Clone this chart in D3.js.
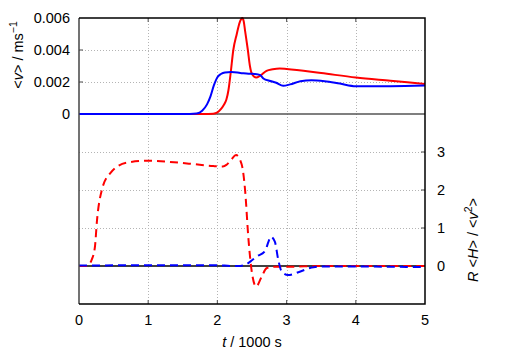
<!DOCTYPE html>
<html>
<head>
<meta charset="utf-8">
<script src="https://cdn.jsdelivr.net/npm/d3@7"></script>
<style>
  body { margin: 0; background: #fff; }
  text { font-family: "Liberation Sans", Arial, sans-serif; fill: #000; }
</style>
</head>
<body>
<div id="chart"></div>
<script>
// upper panel: mean velocity <v>
var tVRed  = [0, 1.8, 1.94, 2.0, 2.05, 2.09, 2.13, 2.16, 2.19, 2.23, 2.28, 2.32, 2.34, 2.36, 2.38, 2.40, 2.44, 2.47, 2.50, 2.56, 2.62, 2.71, 2.80, 2.90, 3.0, 3.5, 4.0, 4.5, 5.0];
var vRed   = [0, 0, 0.00002, 0.0001, 0.0003, 0.00055, 0.0009, 0.0015, 0.0025, 0.004, 0.005, 0.0057, 0.0059, 0.006, 0.0058, 0.0052, 0.004, 0.003, 0.0025, 0.00228, 0.0024, 0.0027, 0.0028, 0.00285, 0.00282, 0.00256, 0.00228, 0.00208, 0.00188];
var tVBlue = [0, 1.6, 1.70, 1.78, 1.85, 1.90, 1.95, 2.0, 2.05, 2.11, 2.2, 2.33, 2.45, 2.57, 2.62, 2.67, 2.75, 2.85, 2.95, 3.05, 3.2, 3.36, 3.55, 3.77, 4.0, 4.5, 5.0];
var vBlue  = [0, 0, 0.00003, 0.0002, 0.0006, 0.0011, 0.0018, 0.0023, 0.0025, 0.0026, 0.00262, 0.00257, 0.00252, 0.00249, 0.00243, 0.0022, 0.00208, 0.00195, 0.00176, 0.00185, 0.00205, 0.00211, 0.00205, 0.0019, 0.00174, 0.00174, 0.00178];

// lower panel: R <H> / <v^2>
var tRRed  = [0, 0.1, 0.13, 0.18, 0.23, 0.26, 0.33, 0.45, 0.69, 0.98, 1.56, 1.94, 2.08, 2.13, 2.2, 2.27, 2.33, 2.37, 2.40, 2.45, 2.50, 2.56, 2.64, 2.71, 2.81, 3.0, 3.5, 5.0];
var rRed   = [0, 0, 0.02, 0.15, 0.5, 1.2, 2.0, 2.44, 2.72, 2.77, 2.70, 2.63, 2.62, 2.66, 2.8, 2.92, 2.78, 2.5, 2.0, 0.68, -0.19, -0.54, -0.28, -0.06, -0.02, -0.02, 0, 0];
var tRBlue = [0, 1.0, 2.0, 2.2, 2.33, 2.42, 2.5, 2.57, 2.69, 2.74, 2.77, 2.83, 2.88, 2.93, 3.02, 3.19, 3.39, 3.6, 5.0];
var rBlue  = [0.01, 0.02, 0.02, 0, 0, 0.05, 0.15, 0.25, 0.4, 0.65, 0.77, 0.64, 0.16, -0.15, -0.24, -0.15, -0.03, -0.01, -0.03];

var xTicks = [0, 1, 2, 3, 4, 5];
var vTicks = [0, 0.002, 0.004, 0.006];
var vTickLabels = ["0", "0.002", "0.004", "0.006"];
var rTicks = [0, 1, 2, 3];

var width = 506, height = 354;
var pLeft = 79, pRight = 425, pTop = 18, pMid = 114, pBottom = 304;

var x = d3.scaleLinear().domain([0, 5]).range([pLeft, pRight]);
var yV = d3.scaleLinear().domain([0, 0.006]).range([pMid, pTop]);
var yR = d3.scaleLinear().domain([-1, 4]).range([pBottom, pMid]);

var svg = d3.select("#chart").append("svg")
    .attr("width", width)
    .attr("height", height);

svg.append("defs").append("clipPath").attr("id", "clip")
    .append("rect")
    .attr("x", pLeft).attr("y", pTop - 2)
    .attr("width", pRight - pLeft).attr("height", pBottom - pTop + 2);

// grid
var grid = svg.append("g")
    .attr("stroke", "#b4b4b4")
    .attr("stroke-width", 1)
    .attr("stroke-dasharray", "1,2");

grid.selectAll("line.gx")
    .data(xTicks.slice(1, -1))
    .enter().append("line")
    .attr("x1", function (d) { return Math.round(x(d)) + 0.5; })
    .attr("x2", function (d) { return Math.round(x(d)) + 0.5; })
    .attr("y1", pTop).attr("y2", pBottom);

grid.selectAll("line.gv")
    .data(vTicks.slice(1, -1))
    .enter().append("line")
    .attr("x1", pLeft).attr("x2", pRight)
    .attr("y1", function (d) { return Math.round(yV(d)) + 0.5; })
    .attr("y2", function (d) { return Math.round(yV(d)) + 0.5; });

grid.selectAll("line.gr")
    .data(rTicks.slice(1))
    .enter().append("line")
    .attr("x1", pLeft).attr("x2", pRight)
    .attr("y1", function (d) { return Math.round(yR(d)) + 0.5; })
    .attr("y2", function (d) { return Math.round(yR(d)) + 0.5; });

// tick marks (inward)
var ticks = svg.append("g").attr("stroke", "#666").attr("stroke-width", 1.2);
xTicks.slice(1, -1).forEach(function (d) {
    ticks.append("line").attr("x1", x(d)).attr("x2", x(d)).attr("y1", pTop).attr("y2", pTop + 4);
    ticks.append("line").attr("x1", x(d)).attr("x2", x(d)).attr("y1", pBottom).attr("y2", pBottom - 4);
});
vTicks.slice(1, -1).forEach(function (d) {
    ticks.append("line").attr("x1", pLeft).attr("x2", pLeft + 4).attr("y1", yV(d)).attr("y2", yV(d));
});
rTicks.slice(1).forEach(function (d) {
    ticks.append("line").attr("x1", pRight).attr("x2", pRight - 4).attr("y1", yR(d)).attr("y2", yR(d));
});

// zero line of lower panel
svg.append("line")
    .attr("x1", pLeft).attr("x2", pRight)
    .attr("y1", yR(0)).attr("y2", yR(0))
    .attr("stroke", "#000").attr("stroke-width", 1.5);

// divider / zero line of upper panel
svg.append("line")
    .attr("x1", pLeft).attr("x2", pRight)
    .attr("y1", pMid).attr("y2", pMid)
    .attr("stroke", "#555").attr("stroke-width", 1.5);

function zip(ts, vs) {
    return ts.map(function (t, i) { return [t, vs[i]]; });
}

var lineV = d3.line()
    .x(function (d) { return x(d[0]); })
    .y(function (d) { return yV(d[1]); })
    .curve(d3.curveMonotoneX);

var lineR = d3.line()
    .x(function (d) { return x(d[0]); })
    .y(function (d) { return yR(d[1]); })
    .curve(d3.curveMonotoneX);

var plot = svg.append("g").attr("clip-path", "url(#clip)").attr("fill", "none").attr("stroke-width", 2);

plot.append("path").attr("d", lineR(zip(tRRed, rRed))).attr("stroke", "#ff0000").attr("stroke-dasharray", "8,5");
plot.append("path").attr("d", lineR(zip(tRBlue, rBlue))).attr("stroke", "#0000ff").attr("stroke-dasharray", "8,5");
plot.append("path").attr("d", lineV(zip(tVRed, vRed))).attr("stroke", "#ff0000");
plot.append("path").attr("d", lineV(zip(tVBlue, vBlue))).attr("stroke", "#0000ff");

// frame
svg.append("line").attr("x1", pLeft).attr("x2", pLeft).attr("y1", pTop).attr("y2", pBottom)
    .attr("stroke", "#444").attr("stroke-width", 1.5);
svg.append("path")
    .attr("d", "M" + pLeft + "," + pTop + "H" + pRight + "V" + pBottom + "H" + pLeft)
    .attr("fill", "none").attr("stroke", "#000").attr("stroke-width", 1.5);

// tick labels
var fs = 14.5;
svg.append("g").selectAll("text")
    .data(xTicks)
    .enter().append("text")
    .attr("x", function (d) { return x(d); })
    .attr("y", 325)
    .attr("text-anchor", "middle")
    .attr("font-size", fs)
    .text(function (d) { return d; });

svg.append("g").selectAll("text")
    .data(vTicks)
    .enter().append("text")
    .attr("x", 70)
    .attr("y", function (d) { return yV(d); })
    .attr("dy", "0.36em")
    .attr("text-anchor", "end")
    .attr("font-size", fs)
    .text(function (d, i) { return vTickLabels[i]; });

svg.append("g").selectAll("text")
    .data(rTicks)
    .enter().append("text")
    .attr("x", 437)
    .attr("y", function (d) { return yR(d); })
    .attr("dy", "0.36em")
    .attr("text-anchor", "start")
    .attr("font-size", fs)
    .text(function (d) { return d; });

// axis titles
var xt = svg.append("text")
    .attr("x", 252).attr("y", 347)
    .attr("text-anchor", "middle")
    .attr("font-size", fs);
xt.append("tspan").attr("font-style", "italic").text("t");
xt.append("tspan").text(" / 1000 s");

var yl = svg.append("text")
    .attr("transform", "translate(23,55) rotate(-90)")
    .attr("text-anchor", "middle")
    .attr("font-size", fs);
yl.append("tspan").text("<");
yl.append("tspan").attr("font-style", "italic").text("v");
yl.append("tspan").text("> / ms");
yl.append("tspan").attr("dy", -6).attr("font-size", 10.5).text("\u22121");

var yr = svg.append("text")
    .attr("transform", "translate(478,240) rotate(-90)")
    .attr("text-anchor", "middle")
    .attr("font-size", fs);
yr.append("tspan").attr("font-style", "italic").text("R");
yr.append("tspan").text(" <");
yr.append("tspan").attr("font-style", "italic").text("H");
yr.append("tspan").text("> / <");
yr.append("tspan").attr("font-style", "italic").text("v");
yr.append("tspan").attr("dy", -6).attr("font-size", 10.5).text("2");
yr.append("tspan").attr("dy", 6).text(">");
</script>
</body>
</html>
